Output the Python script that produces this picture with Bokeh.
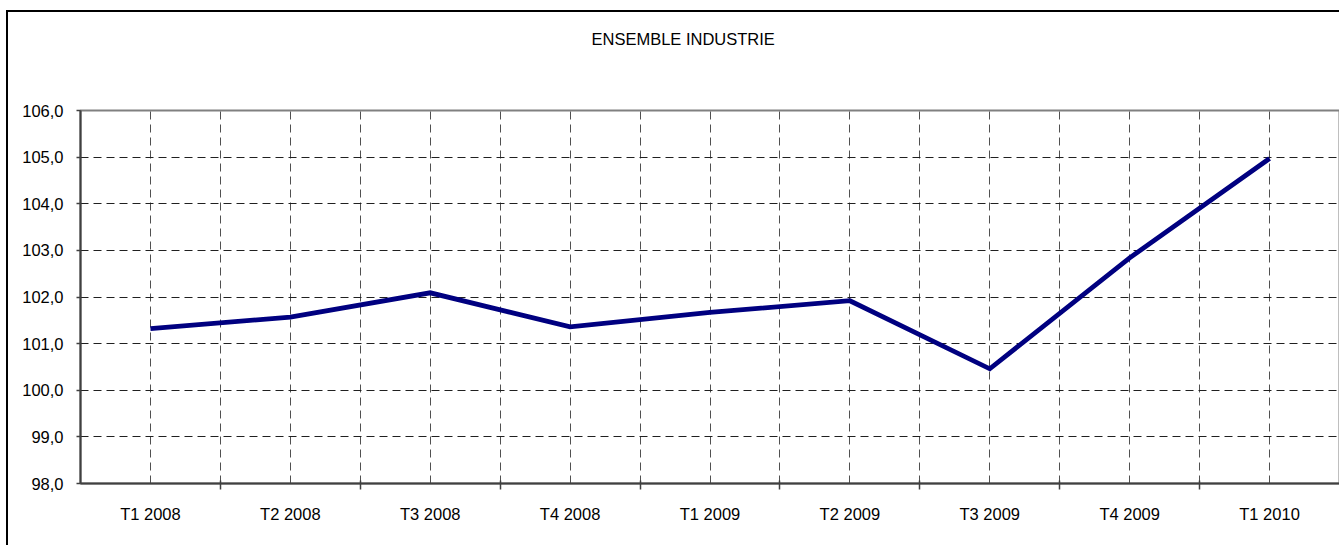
from bokeh.plotting import figure
from bokeh.models import Range1d, FixedTicker, Title
from bokeh.embed import file_html
from bokeh.resources import INLINE

title_text = "ENSEMBLE INDUSTRIE"
categories = ["T1 2008", "T2 2008", "T3 2008", "T4 2008", "T1 2009",
              "T2 2009", "T3 2009", "T4 2009", "T1 2010"]
values = [101.32, 101.57, 102.09, 101.36, 101.67, 101.92, 100.46, 102.84, 104.97]
y_ticks = [98, 99, 100, 101, 102, 103, 104, 105, 106]
y_tick_labels = ["98,0", "99,0", "100,0", "101,0", "102,0", "103,0", "104,0", "105,0", "106,0"]

FONT = "Liberation Sans"
FS = "16.5px"

n = len(categories)
xs = list(range(n))

p = figure(width=1333, height=535, output_backend="svg", toolbar_location=None,
           x_range=Range1d(-0.5, n - 0.5), y_range=Range1d(y_ticks[0], y_ticks[-1]),
           min_border_left=72, min_border_right=2, min_border_top=98, min_border_bottom=64)
p.title.text = ""

p.line(xs, values, line_color="#000080", line_width=4.8, line_join="miter")

# blank spacer between the frame and the title
p.add_layout(Title(text=" ", text_font_size="10px", standoff=50), "above")
# title
p.add_layout(Title(text=title_text, align="left", offset=511, standoff=0,
                   text_font=FONT, text_font_size=FS, text_font_style="normal",
                   text_color="#000000"), "above")

# x axis
xt = FixedTicker(ticks=xs, minor_ticks=[i + 0.5 for i in range(n - 1)])
xax = p.xaxis[0]
xax.ticker = xt
xax.major_label_overrides = {i: c for i, c in zip(xs, categories)}
xax.major_tick_in = 0
xax.major_tick_out = 0
xax.minor_tick_in = 3
xax.minor_tick_out = 6
xax.minor_tick_line_color = "#404040"
xax.minor_tick_line_width = 1.5
xax.major_label_standoff = 15
xax.major_label_text_font = FONT
xax.major_label_text_font_size = FS
xax.major_label_text_color = "#000000"
xax.axis_line_color = "#404040"
xax.axis_line_width = 2

# y axis
yax = p.yaxis[0]
yax.ticker = FixedTicker(ticks=y_ticks, minor_ticks=[])
yax.major_label_overrides = {t: l for t, l in zip(y_ticks, y_tick_labels)}
yax.major_tick_in = 0
yax.major_tick_out = 4
yax.major_tick_line_color = "#404040"
yax.major_tick_line_width = 1.5
yax.minor_tick_in = 0
yax.minor_tick_out = 0
yax.major_label_standoff = 13
yax.major_label_text_font = FONT
yax.major_label_text_font_size = FS
yax.major_label_text_color = "#000000"
yax.axis_line_color = "#404040"
yax.axis_line_width = 2

# grids
p.xgrid.ticker = xt
p.xgrid.grid_line_color = "#505050"
p.xgrid.grid_line_dash = "8 5"
p.xgrid.grid_line_width = 1
p.xgrid.minor_grid_line_color = "#505050"
p.xgrid.minor_grid_line_dash = "8 5"
p.xgrid.minor_grid_line_width = 1

p.ygrid.ticker = FixedTicker(ticks=y_ticks[1:-1], minor_ticks=[])
p.ygrid.grid_line_color = "#202020"
p.ygrid.grid_line_dash = "8 5"
p.ygrid.grid_line_width = 1

p.outline_line_color = "#808080"
p.outline_line_width = 2
p.background_fill_color = "#ffffff"
p.border_fill_color = "#ffffff"
p.styles = {"border-left": "2px solid #000000", "border-top": "2px solid #000000",
            "margin-left": "6px", "margin-top": "10px"}

open("out.html", "w").write(file_html(p, INLINE))
